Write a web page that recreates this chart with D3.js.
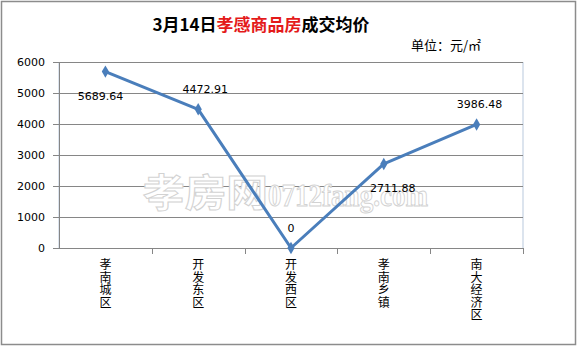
<!DOCTYPE html>
<html>
<head>
<meta charset="utf-8">
<script src="https://cdn.jsdelivr.net/npm/d3@7"></script>
<style>
  body { margin: 0; background: #fff; }
  text { font-family: "DejaVu Sans", sans-serif; }
  .cjk { font-family: "Noto Sans CJK SC", sans-serif; }
</style>
</head>
<body>
<div id="chart"></div>
<script>
// data
const categories = ["孝南城区", "开发东区", "开发西区", "孝南乡镇", "南大经济区"];
const prices = [5689.64, 4472.91, 0, 2711.88, 3986.48];
const yTicks = [0, 1000, 2000, 3000, 4000, 5000, 6000];
// where excel dropped each value label
const labelPos = ["below", "above", "above", "below", "above"];
const labelShift = [-5, 7, 0, 9, 3];

const W = 578, H = 347;
const margin = {top: 62, right: 55, bottom: 99, left: 59};
const width = W - margin.left - margin.right;
const height = H - margin.top - margin.bottom;

const svg = d3.select("#chart").append("svg")
  .attr("width", W).attr("height", H);

// outer frame
svg.append("rect")
  .attr("x", 1.5).attr("y", 1.5)
  .attr("width", W - 4).attr("height", H - 4)
  .attr("fill", "#fff").attr("stroke", "#8c8c8c").attr("stroke-width", 1.5);

// title, partly red
const title = svg.append("text")
  .attr("class", "cjk")
  .attr("x", 261).attr("y", 31)
  .attr("text-anchor", "middle")
  .style("font-size", "17px").style("font-weight", "bold");
title.append("tspan").attr("fill", "#000").text("3月14日");
title.append("tspan").attr("fill", "#e41a1a").text("孝感商品房");
title.append("tspan").attr("fill", "#000").text("成交均价");

svg.append("text")
  .attr("class", "cjk")
  .attr("x", 481).attr("y", 50)
  .attr("text-anchor", "end")
  .style("font-size", "13px")
  .text("单位：元/㎡");

const g = svg.append("g")
  .attr("transform", "translate(" + margin.left + "," + margin.top + ")");

const x = d3.scaleBand().domain(categories).range([0, width]);
const y = d3.scaleLinear().domain([0, 6000]).range([height, 0]);

// plot area border (light)
g.append("rect")
  .attr("x", 0).attr("y", 0.5)
  .attr("width", width).attr("height", height)
  .attr("fill", "none").attr("stroke", "#b9c9dd");

// gridlines
g.append("g")
  .selectAll("line")
  .data(yTicks.filter(d => d > 0))
  .enter().append("line")
  .attr("x1", 0).attr("x2", width)
  .attr("y1", d => Math.round(y(d)) + 0.5)
  .attr("y2", d => Math.round(y(d)) + 0.5)
  .attr("stroke", "#868686");

// y axis
const yAxis = g.append("g")
  .call(d3.axisLeft(y).tickValues(yTicks).tickFormat(d3.format("d")).tickSize(6).tickPadding(8));
yAxis.select(".domain").attr("stroke", "#868686");
yAxis.selectAll(".tick line").attr("stroke", "#868686");
yAxis.selectAll("text").style("font-size", "11px").attr("fill", "#000");

// x axis, ticks between categories
const xAxis = g.append("g")
  .attr("transform", "translate(0," + height + ")");
xAxis.append("line")
  .attr("x1", 0).attr("x2", width).attr("y1", 0.5).attr("y2", 0.5)
  .attr("stroke", "#868686");
xAxis.selectAll(".tk")
  .data(categories)
  .enter().append("line")
  .attr("class", "tk")
  .attr("x1", d => Math.round(x(d) + x.bandwidth()) + 0.5)
  .attr("x2", d => Math.round(x(d) + x.bandwidth()) + 0.5)
  .attr("y1", 0).attr("y2", 6)
  .attr("stroke", "#868686");

// vertical category labels, one char per line
xAxis.selectAll(".cat")
  .data(categories)
  .enter().append("text")
  .attr("class", "cjk cat")
  .attr("text-anchor", "middle")
  .style("font-size", "12px")
  .each(function(d) {
    const t = d3.select(this);
    const cx = x(d) + x.bandwidth() / 2;
    d.split("").forEach((ch, i) => {
      t.append("tspan").attr("x", cx).attr("y", 21 + i * 12.6).text(ch);
    });
  });

// watermark
const wm = g.append("text")
  .attr("x", 84).attr("y", 144)
  .attr("fill", "#fff").attr("stroke", "#d2d2d2").attr("stroke-width", 1)
  .style("font-weight", "bold");
wm.append("tspan").attr("class", "cjk")
  .style("font-size", "38px").style("font-family", "'Noto Sans CJK SC'")
  .attr("textLength", 125).attr("lengthAdjust", "spacingAndGlyphs")
  .text("孝房网");
wm.append("tspan")
  .style("font-size", "32px").style("font-family", "'Liberation Serif', serif")
  .attr("textLength", 160).attr("lengthAdjust", "spacingAndGlyphs")
  .text("0712fang.com");

// the line
const line = d3.line()
  .x((d, i) => x(categories[i]) + x.bandwidth() / 2)
  .y(d => y(d));

g.append("path")
  .datum(prices)
  .attr("fill", "none")
  .attr("stroke", "#4a7ebb")
  .attr("stroke-width", 3)
  .attr("stroke-linejoin", "round")
  .attr("d", line);

g.selectAll(".pt")
  .data(prices)
  .enter().append("path")
  .attr("class", "pt")
  .attr("d", d3.symbol().type(d3.symbolDiamond).size(45))
  .attr("transform", (d, i) => "translate(" + (x(categories[i]) + x.bandwidth() / 2) + "," + y(d) + ")")
  .attr("fill", "#4a7ebb");

// value labels
g.selectAll(".val")
  .data(prices)
  .enter().append("text")
  .attr("class", "val")
  .attr("text-anchor", "middle")
  .attr("x", (d, i) => x(categories[i]) + x.bandwidth() / 2 + labelShift[i])
  .attr("y", (d, i) => y(d) + (labelPos[i] == "above" ? -16 : 28))
  .style("font-size", "11px")
  .attr("fill", "#000")
  .text(d => d == 0 ? "0" : d3.format(".2f")(d));
</script>
</body>
</html>
